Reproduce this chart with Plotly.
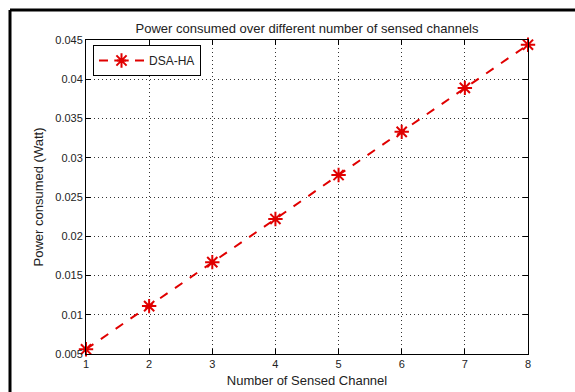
import plotly.graph_objects as go

channels = [1, 2, 3, 4, 5, 6, 7, 8]
power = [0.0056, 0.0111, 0.0167, 0.0222, 0.0278, 0.0333, 0.0389, 0.0444]
y_ticks = [0.005, 0.01, 0.015, 0.02, 0.025, 0.03, 0.035, 0.04, 0.045]
y_tick_labels = ["0.005", "0.01", "0.015", "0.02", "0.025", "0.03", "0.035", "0.04", "0.045"]

W, H = 575, 392
L, R, T, B = 86, 47, 40, 38
pw, ph = W - L - R, H - T - B

def px(x):
    return (x - L) / pw

def py(y):
    return 1 - (y - T) / ph

fig = go.Figure()
fig.add_trace(go.Scatter(
    x=channels, y=power, mode="lines+markers", name="DSA-HA",
    line=dict(color="#e00000", width=2, dash="dash"),
    marker=dict(symbol="asterisk-open", size=12, color="#e00000",
                line=dict(color="#e00000", width=2)),
    cliponaxis=False,
))

fam = "Liberation Sans, Arial, sans-serif"
font = dict(family=fam, size=11, color="#222")
lab_font = dict(family=fam, size=13, color="#222")

fig.update_layout(
    width=W, height=H,
    margin=dict(l=L, r=R, t=T, b=B, autoexpand=False),
    paper_bgcolor="white", plot_bgcolor="white",
    font=font,
    title=dict(text="Power consumed over different number of sensed channels",
               x=(L + pw / 2) / W, xanchor="center", y=1 - 28 / H, yanchor="middle",
               font=lab_font),
    showlegend=True,
    legend=dict(x=px(93), y=py(45), xanchor="left", yanchor="top",
                bgcolor="white", bordercolor="black", borderwidth=1,
                font=dict(family=fam, size=12, color="#222"), itemwidth=45,
                entrywidth=110, tracegroupgap=0),
    xaxis=dict(range=[1, 8], tickvals=channels, ticks="inside", ticklen=5,
               tickcolor="black", showline=True, linecolor="black", linewidth=1,
               mirror="ticks", showgrid=True, gridcolor="#333", griddash="1px,3px",
               gridwidth=1, zeroline=False, automargin=False,
               title=dict(text="Number of Sensed Channel", standoff=6, font=lab_font)),
    yaxis=dict(range=[0.005, 0.045], tickvals=y_ticks, ticktext=y_tick_labels,
               ticks="inside", ticklen=5, tickcolor="black", showline=True,
               linecolor="black", linewidth=1, mirror="ticks", showgrid=True,
               gridcolor="#333", griddash="1px,3px", gridwidth=1, zeroline=False,
               automargin=False,
               title=dict(text="Power consumed (Watt)", standoff=8, font=lab_font)),
    shapes=[
        dict(type="line", xref="paper", yref="paper", x0=px(10), x1=px(W + 5),
             y0=py(10), y1=py(10), line=dict(color="black", width=3)),
        dict(type="line", xref="paper", yref="paper", x0=px(10), x1=px(10),
             y0=py(10), y1=py(H + 5), line=dict(color="black", width=3)),
    ],
)

fig.write_html("out.html")
